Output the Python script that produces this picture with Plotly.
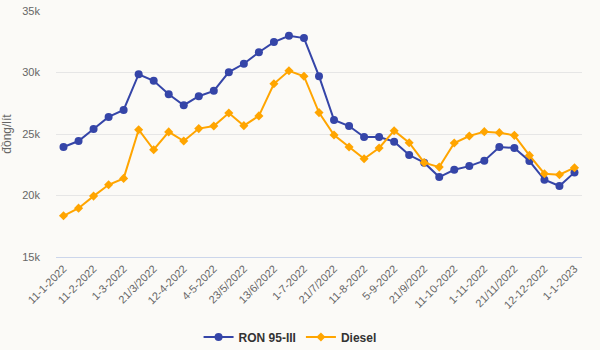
import plotly.graph_objects as go

dates = ["11-1-2022", "26-1-2022", "11-2-2022", "21-2-2022", "1-3-2022", "11-3-2022",
         "21/3/2022", "1-4-2022", "12-4-2022", "25-4-2022", "4-5-2022", "12-5-2022",
         "23/5/2022", "1-6-2022", "13/6/2022", "21/6/2022", "1-7-2022", "11-7-2022",
         "21/7/2022", "1-8-2022", "11-8-2022", "23-8-2022", "5-9-2022", "12-9-2022",
         "21/9/2022", "3-10-2022", "11-10-2022", "21-10-2022", "1-11-2022", "11-11-2022",
         "21/11/2022", "1-12-2022", "12-12-2022", "22-12-2022", "1-1-2023"]

ron95 = [23940, 24430, 25410, 26390, 26960, 29860, 29320, 28230, 27340, 28070,
         28510, 30030, 30710, 31650, 32470, 32990, 32800, 29700, 26140, 25650,
         24760, 24760, 24380, 23290, 22670, 21500, 22090, 22390, 22830, 23940,
         23860, 22800, 21280, 20770, 21880]

diesel = [18350, 18970, 19950, 20870, 21390, 25350, 23720, 25170, 24430, 25440,
          25650, 26710, 25680, 26470, 29080, 30140, 29700, 26740, 24920, 23940,
          22990, 23860, 25270, 24290, 22670, 22310, 24270, 24840, 25190, 25110,
          24890, 23260, 21770, 21690, 22260]

y_ticks = [15000, 20000, 25000, 30000, 35000]
y_tick_labels = ["15k", "20k", "25k", "30k", "35k"]

FONT = "Liberation Sans, Arial, sans-serif"
BG = "#FBFAF7"

fig = go.Figure()
fig.add_trace(go.Scatter(
    x=dates, y=ron95, name="RON 95-III", mode="lines+markers",
    line=dict(color="#3545A8", width=2),
    marker=dict(symbol="circle", size=8, color="#3545A8"),
))
fig.add_trace(go.Scatter(
    x=dates, y=diesel, name="Diesel", mode="lines+markers",
    line=dict(color="#FFA500", width=2),
    marker=dict(symbol="diamond", size=7, color="#FFA500"),
))

fig.update_layout(
    width=600, height=350,
    margin=dict(l=56, r=18, t=11, b=93, autoexpand=False),
    paper_bgcolor=BG, plot_bgcolor=BG,
    font=dict(family=FONT, size=11, color="#666666"),
    showlegend=True,
    legend=dict(orientation="h", x=0.445, xanchor="center", y=-0.325, yanchor="middle",
                font=dict(size=12, color="#333333", family=FONT, weight="bold"),
                bgcolor="rgba(0,0,0,0)", itemwidth=30),
    hovermode=False,
)
fig.update_xaxes(
    type="category", range=[-0.5, len(dates) - 0.5],
    tickmode="array", tickvals=dates[::2], ticktext=dates[::2],
    tickangle=-45, tickfont=dict(size=11, color="#666666"),
    showgrid=False, showline=True, linecolor="#CCD6EB", linewidth=1,
    ticks="", zeroline=False, automargin=False,
)
fig.update_yaxes(
    range=[15000, 35000], tickmode="array", tickvals=y_ticks, ticktext=y_tick_labels,
    showgrid=True, gridcolor="#E6E6E6", gridwidth=1, zeroline=False,
    showline=False, ticks="", ticklabelstandoff=15, automargin=False,
    tickfont=dict(size=11, color="#666666"),
    title=dict(text="đồng/lít", font=dict(size=12, color="#666666"), standoff=12),
)

fig.write_html("out.html")
